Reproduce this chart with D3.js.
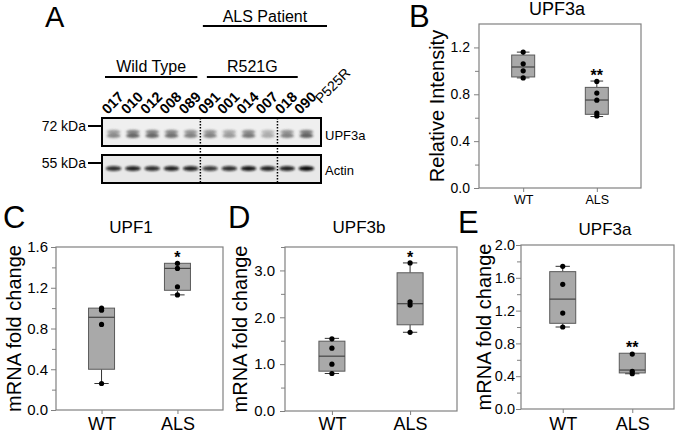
<!DOCTYPE html>
<html><head><meta charset="utf-8">
<script src="https://cdn.jsdelivr.net/npm/d3@7"></script>
<style>
html,body{margin:0;padding:0;background:#fff;}
svg{display:block;font-family:"Liberation Sans",Arial,sans-serif;}
</style></head>
<body><svg id="fig" width="677" height="434"></svg>
<script>
// ---------------- DATA ----------------
// Panel A: western blot
const laneLabels = ["017","010","012","008","089","091","001","014","007","018","090"];
const upf3aBand = [0.6,0.8,0.8,0.75,0.65,0.65,0.5,0.7,0.4,0.65,0.85];
const actinBand = [0.85,0.9,0.85,0.9,0.9,0.8,0.85,0.95,0.9,0.9,1.0];
const blotLabels = ["UPF3a","Actin"];
const mwLabels = ["72 kDa","55 kDa"];
const groupNames = ["Wild Type","R521G","ALS Patient","P525R"];

// Box plots
const groupLabels = ["WT","ALS"];
// [min, q1, median, q3, max]
const bBoxWT = [0.94,0.948,1.033,1.135,1.16];
const bBoxALS = [0.61,0.629,0.751,0.859,0.913];
const bPointsWT = [1.16,1.06,1.00,0.94];
const bPointsALS = [0.91,0.81,0.75,0.64,0.615];
const bStars = ["","**"];
const bTicks = [0,0.4,0.8,1.2];
const bMinor = [0.2,0.6,1.0];

const cBoxWT = [0.26,0.40,0.91,1.00,1.00];
const cBoxALS = [1.13,1.175,1.39,1.44,1.44];
const cPointsWT = [1.00,0.98,0.84,0.26];
const cPointsALS = [1.44,1.39,1.21,1.13];
const cStars = ["","*"];
const cTicks = [0,0.4,0.8,1.2,1.6];
const cMinor = [0.2,0.6,1.0,1.4];

const dBoxWT = [0.80,0.85,1.17,1.49,1.55];
const dBoxALS = [1.68,1.84,2.29,2.95,3.16];
const dPointsWT = [1.54,1.34,1.00,0.80];
const dPointsALS = [3.16,2.33,2.26,1.68];
const dStars = ["","*"];
const dTicks = [0,1,2,3];
const dMinor = [0.5,1.5,2.5,3.5];

const eBoxWT = [1.00,1.045,1.34,1.675,1.74];
const eBoxALS = [0.43,0.44,0.475,0.68,0.68];
const ePointsWT = [1.74,1.52,1.17,1.00];
const ePointsALS = [0.67,0.46,0.43];
const eStars = ["","**"];
const eTicks = [0,0.4,0.8,1.2,1.6,2.0];
const eMinor = [0.2,0.6,1.0,1.4,1.8];

// ---------------- DRAW ----------------
const FONT = '"Liberation Sans",Arial,sans-serif';
const svg = d3.select("#fig");
const defs = svg.append("defs");
defs.append("filter").attr("id","blurA").attr("x","-50%").attr("y","-100%").attr("width","200%").attr("height","300%")
  .append("feGaussianBlur").attr("stdDeviation",1.2);
defs.append("filter").attr("id","blurB").attr("x","-50%").attr("y","-100%").attr("width","200%").attr("height","300%")
  .append("feGaussianBlur").attr("stdDeviation",0.9);

function letter(t,x,y,size){
  svg.append("text").attr("x",x).attr("y",y).attr("font-size",size).attr("font-family",FONT).text(t);
}

// ---- Panel A ----
letter("A",45,27,29);
const lane = d3.scaleBand().domain(laneLabels).range([104,316]);
const lx = i => lane(laneLabels[i]);
const lw = lane.bandwidth();
const blots = [{y0:118,y1:146,bg:"#efefef"},{y0:155,y1:183,bg:"#e8e8e8"}];
blots.forEach((b,bi)=>{
  svg.append("rect").attr("x",102).attr("y",b.y0).attr("width",219).attr("height",b.y1-b.y0).attr("fill",b.bg);
});
// UPF3a bands (doublet)
const gA = svg.append("g").attr("filter","url(#blurA)");
laneLabels.forEach((l,i)=>{
  const cx = lane(l)+lw/2;
  const v = upf3aBand[i];
  gA.append("ellipse").attr("cx",cx).attr("cy",131.8).attr("rx",7).attr("ry",2.0).attr("fill","#3a3a3a").attr("opacity",v*0.75);
  gA.append("ellipse").attr("cx",cx).attr("cy",135.8).attr("rx",7).attr("ry",2.2).attr("fill","#3a3a3a").attr("opacity",v*0.95);
});
const gB = svg.append("g").attr("filter","url(#blurB)");
laneLabels.forEach((l,i)=>{
  const cx = lane(l)+lw/2;
  const v = actinBand[i];
  gB.append("ellipse").attr("cx",cx).attr("cy",168.5).attr("rx",7.8).attr("ry",2.5).attr("fill","#111").attr("opacity",v);
});
blots.forEach(b=>{
  svg.append("rect").attr("x",102).attr("y",b.y0).attr("width",219).attr("height",b.y1-b.y0)
    .attr("fill","none").attr("stroke","#000").attr("stroke-width",2);
});
// dotted separators
[5,9].forEach(i=>{
  svg.append("line").attr("x1",lx(i)).attr("x2",lx(i)).attr("y1",118).attr("y2",183)
    .attr("stroke","#000").attr("stroke-width",1.5).attr("stroke-dasharray","1.5,1.5");
});
// MW markers
[[126,0],[163,1]].forEach(([yy,i])=>{
  svg.append("line").attr("x1",88).attr("x2",102).attr("y1",yy).attr("y2",yy).attr("stroke","#000").attr("stroke-width",2);
  svg.append("text").attr("x",86).attr("y",yy+5).attr("text-anchor","end").attr("font-size",14).attr("font-family",FONT).text(mwLabels[i]);
});
// Blot labels
svg.append("text").attr("x",325).attr("y",140).attr("font-size",13).attr("font-family",FONT).text(blotLabels[0]);
svg.append("text").attr("x",325).attr("y",175).attr("font-size",13).attr("font-family",FONT).text(blotLabels[1]);
// lane labels
laneLabels.forEach((l,i)=>{
  const cx = lane(l)+lw/2;
  svg.append("text").attr("transform",`translate(${cx-6},115) rotate(-45)`)
    .attr("font-size",14.5).attr("font-weight","bold").attr("font-family",FONT).text(l);
});
svg.append("text").attr("transform",`translate(${lx(10)+lw+5},104) rotate(-45)`)
  .attr("font-size",14).attr("font-family",FONT).text(groupNames[3]);
// group lines
function groupLine(x1,x2,yy,label,ty){
  svg.append("line").attr("x1",x1).attr("x2",x2).attr("y1",yy).attr("y2",yy).attr("stroke","#000").attr("stroke-width",2.2);
  svg.append("text").attr("x",(x1+x2)/2).attr("y",ty).attr("text-anchor","middle").attr("font-size",16).attr("font-family",FONT).text(label);
}
groupLine(lx(0)+1, lx(4)+lw-3, 77, groupNames[0], 72);
groupLine(lx(5)+6.5, lx(9)+lw+1, 77, groupNames[1], 72);
groupLine(lx(5)+2.5, lx(10)+lw+11, 26, groupNames[2], 22);

// ---- Box panels ----
function drawPanel(cfg){
  const x = d3.scalePoint().domain(groupLabels).range([cfg.x0,cfg.x1]).padding(0.6);
  const y = d3.scaleLinear().domain(cfg.domain).range([cfg.y1,cfg.y0]);
  const g = svg.append("g");
  // y axis major
  const ay = g.append("g").attr("transform",`translate(${cfg.x0},0)`)
    .call(d3.axisLeft(y).tickValues(cfg.major).tickFormat(d3.format(".1f")).tickSize(5).tickPadding(cfg.pad));
  ay.select(".domain").remove();
  ay.selectAll("line").attr("stroke","#808080");
  ay.selectAll("text").attr("font-size",cfg.tickFont).attr("font-family",FONT).attr("fill","#000");
  const am = g.append("g").attr("transform",`translate(${cfg.x0},0)`)
    .call(d3.axisLeft(y).tickValues(cfg.minor).tickFormat("").tickSize(4));
  am.select(".domain").remove();
  am.selectAll("line").attr("stroke","#808080");
  // x axis
  const ax = g.append("g").attr("transform",`translate(0,${cfg.y1})`)
    .call(d3.axisBottom(x).tickSize(4));
  ax.select(".domain").remove();
  ax.selectAll("line").attr("stroke","#808080");
  ax.selectAll("text").attr("y",cfg.xOff).attr("dy",0).attr("font-size",cfg.xFont).attr("font-family",FONT).attr("fill","#000");
  // frame
  g.append("rect").attr("x",cfg.x0).attr("y",cfg.y0).attr("width",cfg.x1-cfg.x0).attr("height",cfg.y1-cfg.y0)
    .attr("fill","none").attr("stroke","#808080").attr("stroke-width",1.2);
  // boxes
  groupLabels.forEach((gn,i)=>{
    const s = cfg.boxes[i], cx = x(gn), w = cfg.boxW, cw = w*0.55;
    const wh = g.append("g").attr("stroke","#333").attr("stroke-width",1);
    if (s[0] < s[1]) {
      wh.append("line").attr("x1",cx).attr("x2",cx).attr("y1",y(s[1])).attr("y2",y(s[0]));
      wh.append("line").attr("x1",cx-cw/2).attr("x2",cx+cw/2).attr("y1",y(s[0])).attr("y2",y(s[0]));
    }
    if (s[4] > s[3]) {
      wh.append("line").attr("x1",cx).attr("x2",cx).attr("y1",y(s[3])).attr("y2",y(s[4]));
      wh.append("line").attr("x1",cx-cw/2).attr("x2",cx+cw/2).attr("y1",y(s[4])).attr("y2",y(s[4]));
    }
    g.append("rect").attr("x",cx-w/2).attr("y",y(s[3])).attr("width",w).attr("height",y(s[1])-y(s[3]))
      .attr("fill","#a9a9a9").attr("stroke","#5a5a5a").attr("stroke-width",1);
    g.append("line").attr("x1",cx-w/2).attr("x2",cx+w/2).attr("y1",y(s[2])).attr("y2",y(s[2]))
      .attr("stroke","#444").attr("stroke-width",1.2);
    g.selectAll(null).data(cfg.points[i]).enter().append("circle")
      .attr("cx",cx).attr("cy",d=>y(d)).attr("r",2.6).attr("fill","#000");
    if (cfg.stars[i]) {
      g.append("text").attr("x",cx).attr("y",y(s[4])-10).attr("dy","0.62em").attr("text-anchor","middle")
        .attr("font-size",16).attr("font-weight","bold").attr("font-family",FONT).text(cfg.stars[i]);
    }
  });
  // title
  g.append("text").attr("x",cfg.titleX).attr("y",cfg.titleY).attr("text-anchor","middle")
    .attr("font-size",cfg.titleFont).attr("font-family",FONT).text(cfg.title);
  // y label
  g.append("text").attr("transform",`translate(${cfg.ylabX},${(cfg.y0+cfg.y1)/2}) rotate(-90)`)
    .attr("text-anchor","middle").attr("dy","0.35em").attr("font-size",20).attr("font-family",FONT).text(cfg.ylab);
  letter(cfg.letter, cfg.lx, cfg.ly, 31);
}

drawPanel({letter:"B",lx:409,ly:27,x0:479,x1:641,y0:24,y1:188,domain:[0,1.4],major:bTicks,minor:bMinor,
  pad:4,tickFont:14,xFont:12.5,xOff:16,boxW:23,boxes:[bBoxWT,bBoxALS],points:[bPointsWT,bPointsALS],stars:bStars,
  title:"UPF3a",titleX:557,titleY:15,titleFont:18,ylab:"Relative Intensity",ylabX:437});
drawPanel({letter:"C",lx:3,ly:228,x0:56,x1:223,y0:247,y1:410,domain:[0,1.6],major:cTicks,minor:cMinor,
  pad:3,tickFont:15,xFont:18,xOff:19.5,boxW:26,boxes:[cBoxWT,cBoxALS],points:[cPointsWT,cPointsALS],stars:cStars,
  title:"UPF1",titleX:131,titleY:233,titleFont:17,ylab:"mRNA fold change",ylabX:14});
drawPanel({letter:"D",lx:228,ly:228,x0:285,x1:457,y0:247,y1:411,domain:[0,3.5],major:dTicks,minor:dMinor,
  pad:5,tickFont:15,xFont:18,xOff:18.5,boxW:26,boxes:[dBoxWT,dBoxALS],points:[dPointsWT,dPointsALS],stars:dStars,
  title:"UPF3b",titleX:359,titleY:233,titleFont:17,ylab:"mRNA fold change",ylabX:240});
drawPanel({letter:"E",lx:458,ly:233,x0:521,x1:674,y0:245,y1:409,domain:[0,2.0],major:eTicks,minor:eMinor,
  pad:1,tickFont:14.5,xFont:18,xOff:20.5,boxW:26,boxes:[eBoxWT,eBoxALS],points:[ePointsWT,ePointsALS],stars:eStars,
  title:"UPF3a",titleX:605,titleY:235,titleFont:17,ylab:"mRNA fold change",ylabX:484});
</script></body></html>
